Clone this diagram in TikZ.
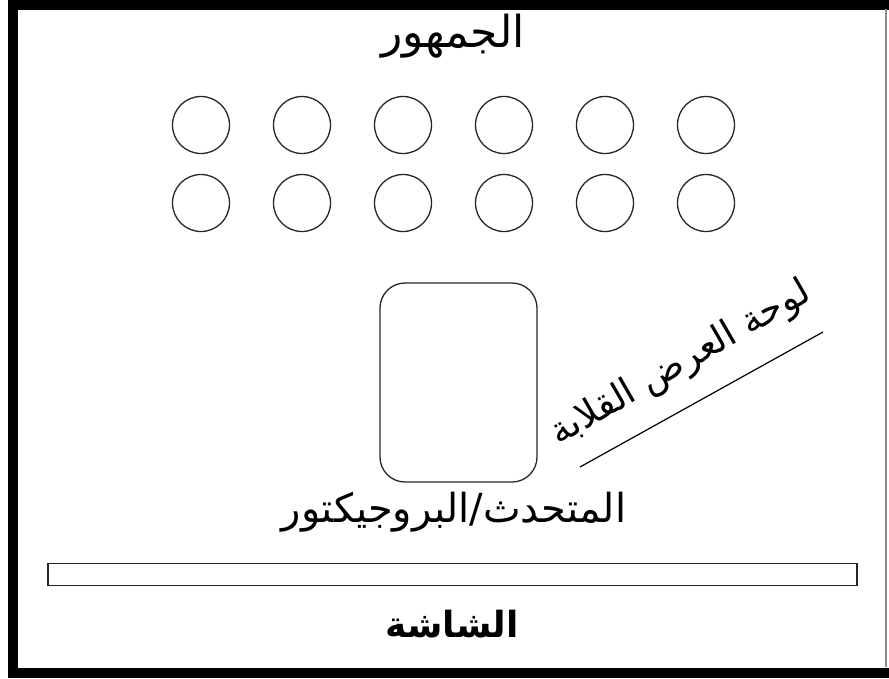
\documentclass[tikz,border=0pt]{standalone}
\usepackage{fontspec}
\newfontfamily\arabicfont[Script=Arabic]{DejaVu Sans}
\TeXXeTstate=1
\usetikzlibrary{positioning}

\begin{document}
\begin{tikzpicture}[
  x=1pt, y=-1pt,
  seat/.style={draw=black!85, circle, minimum size=57pt, inner sep=0pt, line width=1.3pt},
  artxt/.style={font=\arabicfont\fontsize{40}{42}\selectfont, inner sep=0pt},
  frame/.style={line width=10pt}
]
\useasboundingbox (0,0) rectangle (889,678);
% room frame, cut off at the right
\draw[frame] (13,4.5) rectangle (900,672.5);
\draw[black!45, line width=1.5pt] (886,9) -- (886,667);

\node[artxt, font=\arabicfont\fontsize{44}{46}\selectfont] (audience) at (453,36) {\beginR الجمهور\endR};
\foreach \i in {1,...,6} {
  \node[seat] (seat-a\i) at ({201+101*(\i-1)},125) {};
  \node[seat] (seat-b\i) at ({201+101*(\i-1)},203) {};
}

\node[draw=black!85, line width=1.3pt, rounded corners=25pt, minimum width=157pt, minimum height=199pt] (podium) at (458.5,382.5) {};
\node[artxt] (speaker) at (454,512) {\beginR المتحدث/البروجيكتور\endR};

% flip chart label and its line
\node[artxt, font=\arabicfont\fontsize{37}{39}\selectfont, rotate=30] (flipchart) at (681,364) {\beginR لوحة العرض القلابة\endR};
\coordinate (fc-start) at (580,467);
\coordinate (fc-end) at (823,332);
\draw[line width=1.2pt] (fc-start) -- (fc-end);

\node[draw=black!85, line width=1.5pt, minimum width=809pt, minimum height=22pt, inner sep=0pt] (screen) at (452.5,574.5) {};
\node[artxt, font=\arabicfont\bfseries\fontsize{36}{38}\selectfont] (screen-txt) at (452,624) {\beginR الشاشة\endR};
\end{tikzpicture}
\end{document}
